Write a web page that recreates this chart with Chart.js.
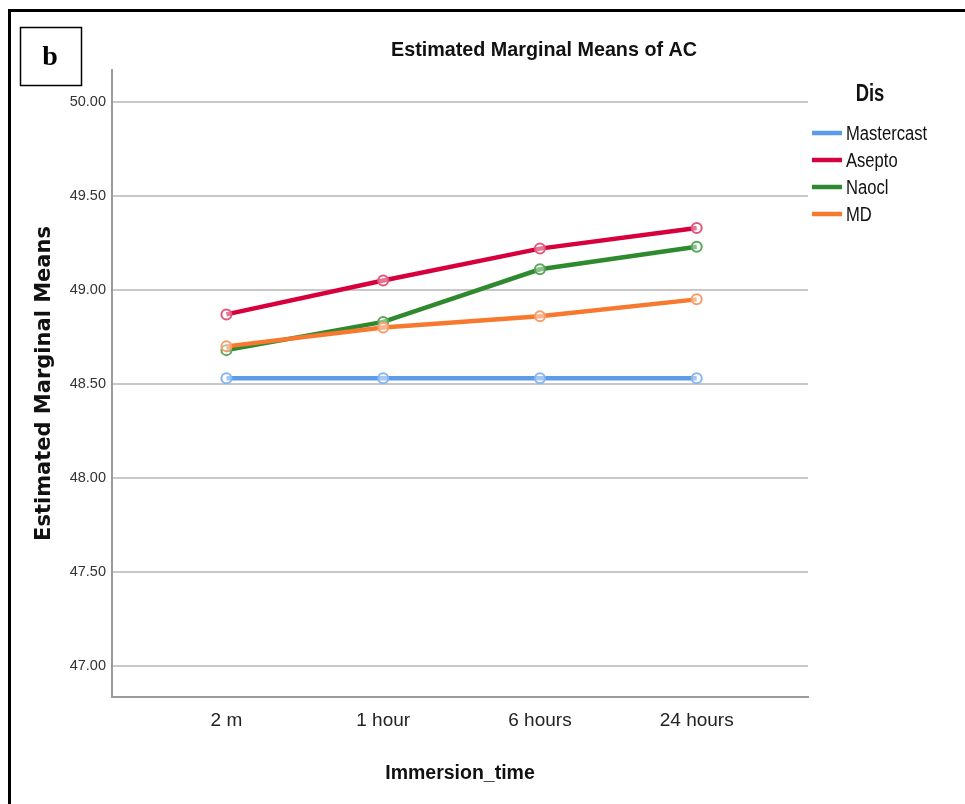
<!DOCTYPE html>
<html>
<head>
<meta charset="utf-8">
<title>Estimated Marginal Means of AC</title>
<script src="https://cdn.jsdelivr.net/npm/chart.js@4/dist/chart.umd.min.js"></script>
<style>
  html, body { margin: 0; padding: 0; background: #fff; }
  #wrap { width: 965px; height: 804px; position: relative; }
</style>
</head>
<body>
<div id="wrap"><canvas id="chart" width="965" height="804"></canvas></div>
<script>
// Immersion time levels (x axis) and the estimated marginal means of AC per disinfectant
const immersionTimes = ['2 m', '1 hour', '6 hours', '24 hours'];
const disLabels = ['Mastercast', 'Asepto', 'Naocl', 'MD'];
const mastercast = [48.53, 48.53, 48.53, 48.53];
const asepto = [48.87, 49.05, 49.22, 49.33];
const naocl = [48.68, 48.83, 49.11, 49.23];
const md = [48.70, 48.80, 48.86, 48.95];
const yTicks = [47.0, 47.5, 48.0, 48.5, 49.0, 49.5, 50.0];

const seriesValues = [mastercast, asepto, naocl, md];
const lineColors = ['#5b9be8', '#d6003c', '#2f8a2f', '#f7782f'];
const markerColors = ['#86b6f0', '#e2567a', '#58a658', '#f89c68'];
const drawOrder = [0, 0, 1, 0];

const SANS = "'Liberation Sans', Arial, sans-serif";

const datasets = seriesValues.map((vals, i) => ({
  label: disLabels[i],
  data: vals.map((v, k) => ({ x: k, y: v })),
  borderColor: lineColors[i],
  borderWidth: 4.5,
  pointRadius: 5,
  pointHoverRadius: 5,
  pointBorderWidth: 2,
  pointBorderColor: markerColors[i],
  pointBackgroundColor: 'rgba(255,255,255,0.45)',
  tension: 0,
  order: drawOrder[i]
}));

// draw text squeezed horizontally (narrow lettering)
function narrowText(ctx, text, x, y, font, align, sx) {
  ctx.save();
  ctx.font = font;
  ctx.textAlign = align;
  ctx.textBaseline = 'middle';
  ctx.translate(x, y);
  ctx.scale(sx, 1);
  ctx.fillText(text, 0, 0);
  ctx.restore();
}

// Frame, panel letter, chart title and the "Dis" legend
const decorations = {
  id: 'decorations',
  afterDraw(chart) {
    const ctx = chart.ctx;
    ctx.save();
    // outer frame (top and left edges)
    ctx.strokeStyle = '#000';
    ctx.lineWidth = 3;
    ctx.beginPath();
    ctx.moveTo(9.5, 810);
    ctx.lineTo(9.5, 10.5);
    ctx.lineTo(970, 10.5);
    ctx.stroke();
    // panel letter box
    ctx.lineWidth = 1.5;
    ctx.strokeRect(20.5, 27.5, 61, 58);
    ctx.fillStyle = '#000';
    ctx.font = "bold 28px 'Liberation Serif', 'Times New Roman', serif";
    ctx.textAlign = 'center';
    ctx.textBaseline = 'middle';
    ctx.fillText('b', 50, 58);
    // title
    ctx.fillStyle = '#111';
    narrowText(ctx, 'Estimated Marginal Means of AC', 544, 50, 'bold 21px ' + SANS, 'center', 0.94);
    // legend
    narrowText(ctx, 'Dis', 870, 95, 'bold 23px ' + SANS, 'center', 0.8);
    chart.data.datasets.forEach((ds, i) => {
      const y = 133 + i * 27;
      ctx.strokeStyle = ds.borderColor;
      ctx.lineWidth = 4.5;
      ctx.beginPath();
      ctx.moveTo(812, y);
      ctx.lineTo(842, y);
      ctx.stroke();
      ctx.fillStyle = '#111';
      narrowText(ctx, ds.label, 846, y + 1, '20px ' + SANS, 'left', 0.83);
    });
    ctx.restore();
  }
};

new Chart(document.getElementById('chart'), {
  type: 'line',
  data: { datasets },
  plugins: [decorations],
  options: {
    responsive: false,
    devicePixelRatio: 1,
    animation: false,
    layout: { padding: { left: 8, top: 70, right: 157, bottom: 0 } },
    plugins: {
      legend: { display: false },
      title: { display: false },
      tooltip: { enabled: false }
    },
    scales: {
      x: {
        type: 'linear',
        min: -0.73,
        max: 3.71,
        afterFit(scale) { scale.height = 107; },
        grid: { display: false, drawTicks: false },
        border: { display: true, color: '#9a9a9a', width: 2 },
        ticks: {
          stepSize: 1,
          includeBounds: false,
          padding: 12,
          color: '#222',
          font: { family: SANS, size: 19 },
          callback: (v) => Number.isInteger(v) ? immersionTimes[v] : ''
        },
        title: {
          display: true,
          text: 'Immersion_time',
          color: '#111',
          font: { family: SANS, size: 19.5, weight: 'bold' },
          padding: { top: 0, bottom: 19 }
        }
      },
      y: {
        type: 'linear',
        min: 46.835,
        max: 50.17,
        afterFit(scale) { scale.width = 104; },
        afterBuildTicks(scale) { scale.ticks = yTicks.map(v => ({ value: v })); },
        grid: { color: '#c8c8c8', lineWidth: 2, drawTicks: false },
        border: { display: true, color: '#9a9a9a', width: 2 },
        ticks: {
          padding: 6,
          color: '#333',
          font: { family: SANS, size: 14.5 },
          callback: (v) => Number(v).toFixed(2)
        },
        title: {
          display: true,
          text: 'Estimated Marginal Means',
          color: '#111',
          font: { family: "'DejaVu Sans', sans-serif", size: 21, weight: 'bold' },
          padding: { top: 24, bottom: 0 }
        }
      }
    }
  }
});
</script>
</body>
</html>
